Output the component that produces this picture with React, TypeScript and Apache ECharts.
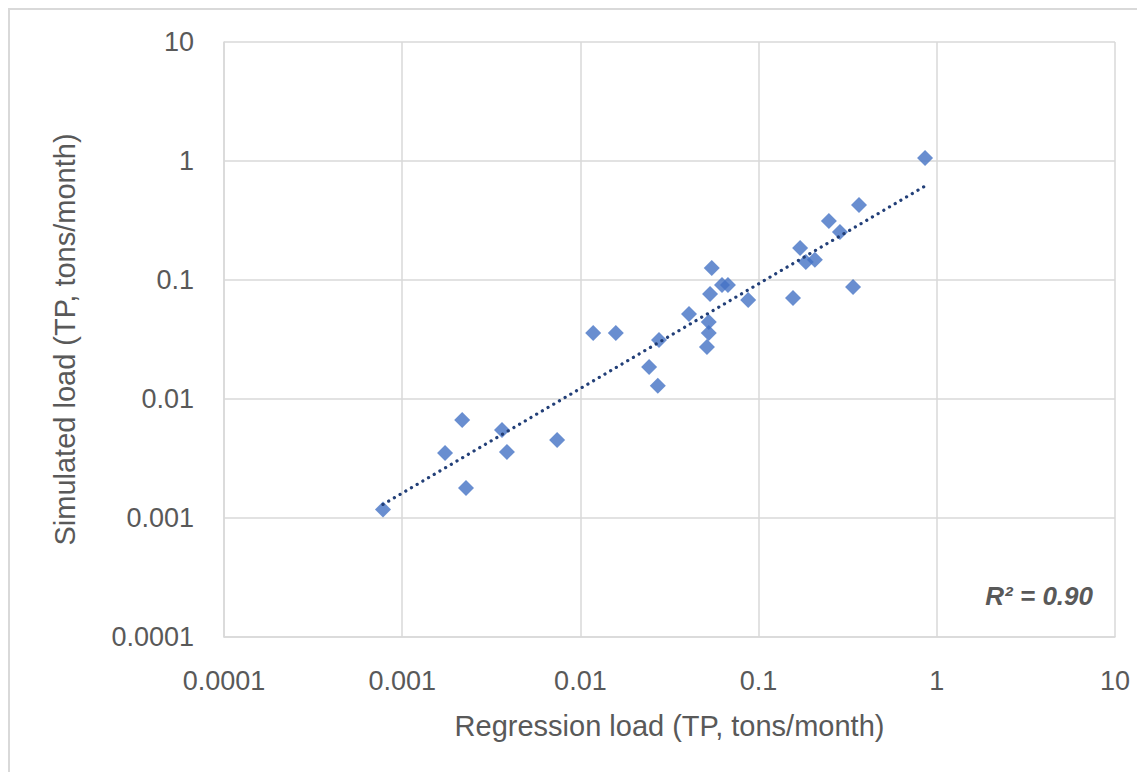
import React, { useEffect, useRef } from "react";
import * as echarts from "echarts";

// Regression load (x) vs simulated load (y), TP tons/month
const regressionLoad = [
  0.00078, 0.00174, 0.00217, 0.00228, 0.00363, 0.00387, 0.0074, 0.0118, 0.0158, 0.0276,
  0.0243, 0.0272, 0.0407, 0.0513, 0.0525, 0.0525, 0.0534, 0.0546, 0.0623, 0.0673,
  0.0874, 0.156, 0.171, 0.184, 0.207, 0.248, 0.286, 0.339, 0.366, 0.859,
];
const simulatedLoad = [
  0.00118, 0.00352, 0.00667, 0.00179, 0.00548, 0.00359, 0.00452, 0.0359, 0.0359, 0.0313,
  0.0186, 0.0129, 0.0518, 0.0274, 0.0359, 0.0444, 0.0762, 0.126, 0.0908, 0.0908,
  0.068, 0.0706, 0.186, 0.142, 0.148, 0.313, 0.253, 0.0873, 0.427, 1.06,
];
const axisTicks = [0.0001, 0.001, 0.01, 0.1, 1, 10];
const r2Label = "R² = 0.90";
const xTitle = "Regression load (TP, tons/month)";
const yTitle = "Simulated load (TP, tons/month)";

function powerFit(xs: number[], ys: number[]) {
  const lx = xs.map(Math.log10);
  const ly = ys.map(Math.log10);
  const n = lx.length;
  const mx = lx.reduce((a, b) => a + b, 0) / n;
  const my = ly.reduce((a, b) => a + b, 0) / n;
  let sxy = 0;
  let sxx = 0;
  for (let i = 0; i < n; i++) {
    sxy += (lx[i] - mx) * (ly[i] - my);
    sxx += (lx[i] - mx) * (lx[i] - mx);
  }
  const b = sxy / sxx;
  const a = my - b * mx;
  return (x: number) => Math.pow(10, a + b * Math.log10(x));
}

export default function App() {
  const ref = useRef<HTMLDivElement>(null);
  useEffect(() => {
    if (!ref.current) return;
    const chart = echarts.init(ref.current, undefined, { renderer: "svg" });
    const fit = powerFit(regressionLoad, simulatedLoad);
    const xMin = Math.min(...regressionLoad);
    const xMax = Math.max(...regressionLoad);
    const trend = [
      [xMin, fit(xMin)],
      [xMax, fit(xMax)],
    ];
    const font = "'Liberation Sans', Arial, sans-serif";
    const fmt = (v: number) => {
      const t = axisTicks.find((k) => Math.abs(Math.log10(k) - Math.log10(v)) < 1e-6);
      return String(t !== undefined ? t : v);
    };
    chart.setOption({
      animation: false,
      backgroundColor: "#ffffff",
      grid: { left: 214, top: 32, right: 30, bottom: 135, containLabel: false },
      xAxis: {
        type: "log",
        logBase: 10,
        min: 0.0001,
        max: 10,
        interval: 1,
        name: xTitle,
        nameLocation: "middle",
        nameGap: 74,
        nameTextStyle: { color: "#595959", fontSize: 29, fontFamily: font },
        axisLine: { show: true, lineStyle: { color: "#d9d9d9", width: 1.5 } },
        axisTick: { show: false },
        minorTick: { show: false },
        splitLine: { show: true, lineStyle: { color: "#d9d9d9", width: 1.5 } },
        axisLabel: { color: "#595959", fontSize: 27, fontFamily: font, margin: 30, formatter: fmt },
      },
      yAxis: {
        type: "log",
        logBase: 10,
        min: 0.0001,
        max: 10,
        interval: 1,
        name: yTitle,
        nameLocation: "middle",
        nameGap: 145,
        nameTextStyle: { color: "#595959", fontSize: 29, fontFamily: font },
        axisLine: { show: true, lineStyle: { color: "#d9d9d9", width: 1.5 } },
        axisTick: { show: false },
        splitLine: { show: true, lineStyle: { color: "#d9d9d9", width: 1.5 } },
        axisLabel: { color: "#595959", fontSize: 27, fontFamily: font, margin: 30, formatter: fmt },
      },
      series: [
        {
          type: "line",
          data: trend,
          symbol: "none",
          silent: true,
          lineStyle: { color: "#223f78", width: 3.2, type: [0.1, 6.5], cap: "round" },
          z: 3,
        },
        {
          type: "scatter",
          data: regressionLoad.map((x, i) => [x, simulatedLoad[i]]),
          symbol: "diamond",
          symbolSize: 16,
          itemStyle: { color: "#4472c4" },
          z: 2,
        },
      ],
      graphic: [
        {
          type: "text",
          right: 52,
          top: 573,
          style: {
            text: r2Label,
            fill: "#595959",
            font: `italic bold 26px ${font}`,
          },
        },
      ],
    });
    return () => chart.dispose();
  }, []);
  return (
    <div
      style={{
        width: 1137,
        height: 764,
        borderTop: "2px solid #d9d9d9",
        borderLeft: "2px solid #d9d9d9",
        boxSizing: "border-box",
        overflow: "hidden",
      }}
    >
      <div ref={ref} style={{ width: 1135, height: 762 }} />
    </div>
  );
}
